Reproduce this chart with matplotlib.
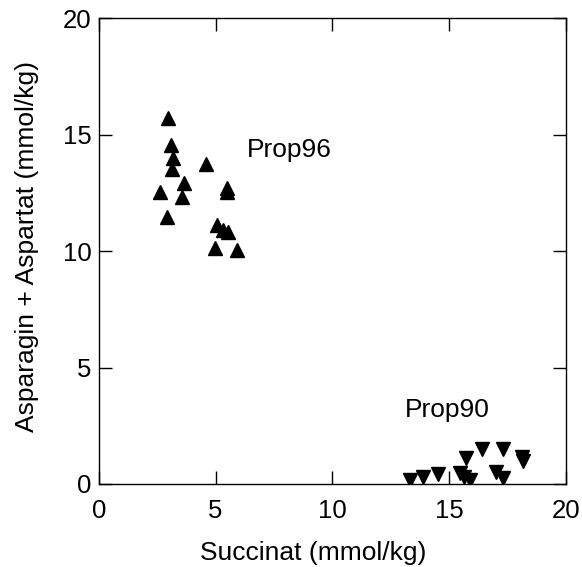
import matplotlib.pyplot as plt

plt.rcParams['font.family'] = ['Liberation Sans', 'DejaVu Sans']

# Prop96 (up triangles)
p96_x = [2.98, 3.09, 3.19, 3.14, 3.67, 2.62, 3.55, 2.91, 4.59, 5.48, 5.50,
         5.05, 5.32, 5.53, 4.98, 5.93]
p96_y = [15.72, 14.56, 14.02, 13.53, 12.94, 12.56, 12.34, 11.47, 13.76, 12.72, 12.52,
         11.13, 10.91, 10.82, 10.14, 10.05]

# Prop90 (down triangles)
p90_x = [13.32, 13.86, 14.53, 15.46, 15.65, 15.89, 15.70, 16.39, 17.31, 18.12, 18.16,
         17.00, 17.31]
p90_y = [0.16, 0.29, 0.41, 0.47, 0.32, 0.19, 1.10, 1.49, 1.50, 1.15, 0.97,
         0.53, 0.26]

fig = plt.figure(figsize=(5.82, 5.67), dpi=100)
ax = fig.add_axes([0.1696, 0.1464, 0.8029, 0.8213])

ax.plot(p96_x, p96_y, '^', color='black', markersize=10.5, linestyle='none')
ax.plot(p90_x, p90_y, 'v', color='black', markersize=10.5, linestyle='none')

ax.text(6.33, 14.06, 'Prop96', fontsize=19, va='baseline', ha='left')
ax.text(13.12, 2.88, 'Prop90', fontsize=19, va='baseline', ha='left')

ax.set_xlim(0, 20)
ax.set_ylim(0, 20)
ax.set_xticks([0, 5, 10, 15, 20])
ax.set_yticks([0, 5, 10, 15, 20])
ax.tick_params(direction='in', length=9.6, width=1, top=True, right=True,
               labelsize=18.5)
ax.tick_params(axis='x', pad=11)
ax.tick_params(axis='y', pad=5)
for s in ax.spines.values():
    s.set_linewidth(1)

ax.set_xlabel('Succinat (mmol/kg)', fontsize=19)
ax.xaxis.set_label_coords(0.4586, -0.1632)
ax.xaxis.label.set_va('baseline')
ax.set_ylabel('Asparagin + Aspartat (mmol/kg)', fontsize=19)
ax.yaxis.set_label_coords(-0.1278, 0.511)

fig.savefig('out.png', dpi=100)
